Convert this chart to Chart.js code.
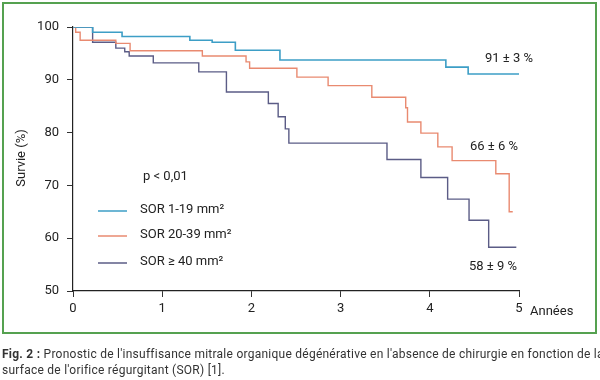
<!DOCTYPE html>
<html><head><meta charset="utf-8">
<script src="https://cdn.jsdelivr.net/npm/chart.js@4/dist/chart.umd.min.js"></script>
<style>
html,body{margin:0;padding:0;background:#fff;}
#wrap{position:relative;width:600px;height:380px;overflow:hidden;}
#frame{position:absolute;left:2px;top:2px;width:591px;height:328px;border:2px solid #55a150;box-sizing:content-box;}
canvas{position:absolute;left:0;top:0;}
#cap{position:absolute;left:2px;top:346px;width:610px;white-space:nowrap;font-family:Roboto,"Noto Sans",sans-serif;font-size:12px;line-height:16px;color:#333;letter-spacing:0.25px;}
#cap b{font-weight:bold;}
</style></head>
<body><div id="wrap"><div id="frame"></div><canvas id="c" width="600" height="380"></canvas>
<div id="cap"><b>Fig. 2 :</b> Pronostic de l'insuffisance mitrale organique dégénérative en l'absence de chirurgie en fonction de la<br>surface de l'orifice régurgitant (SOR) [1].</div></div>
<script>
const yTicks = [50, 60, 70, 80, 90, 100];
const xTicks = [0, 1, 2, 3, 4, 5];
const seriesNames = ["SOR 1-19 mm²", "SOR 20-39 mm²", "SOR ≥ 40 mm²"];
const seriesEndLabels = ["91 ± 3 %", "66 ± 6 %", "58 ± 9 %"];
const pValue = "p < 0,01";
const xTitle = "Années";
const yTitle = "Survie (%)";

const blueT = [0, 0.22, 0.55, 1.31, 1.56, 1.82, 2.32, 4.18, 4.43, 5.0];
const blueS = [100, 99.0, 98.2, 97.5, 97.1, 95.6, 93.75, 92.4, 91.1, 91.1];

const orangeT = [0, 0.03, 0.08, 0.48, 0.64, 1.45, 1.94, 1.98, 2.51, 2.86, 3.35, 3.73, 3.75, 3.90, 4.09, 4.25, 4.74, 4.89, 4.93];
const orangeS = [100, 99.0, 97.5, 96.9, 95.5, 94.5, 93.4, 92.2, 90.5, 88.9, 86.7, 84.7, 82.0, 79.9, 77.3, 74.7, 72.2, 65.0, 65.0];

const purpleT = [0, 0.22, 0.48, 0.58, 0.63, 0.90, 1.41, 1.72, 2.19, 2.30, 2.38, 2.42, 3.52, 3.90, 4.20, 4.44, 4.66, 4.97];
const purpleS = [100, 97.1, 96.0, 95.3, 94.5, 93.2, 91.5, 87.7, 85.5, 83.0, 80.7, 78.0, 74.9, 71.5, 67.4, 63.4, 58.3, 58.3];

const colors = ["#3d9ec6", "#e98a70", "#5b5c86"];
function pts(t, s){ return t.map((x,i)=>({x:x, y:s[i]})); }
const FONT = 'Roboto, "Noto Sans", sans-serif';

const overlay = {
  id:'overlay',
  afterDraw(chart){
    const ctx = chart.ctx, xs = chart.scales.x;
    ctx.save();
    ctx.fillStyle = '#222';
    ctx.font = '13px ' + FONT;
    ctx.textBaseline = 'middle';
    ctx.save();
    ctx.translate(22, 158);
    ctx.rotate(-Math.PI/2);
    ctx.textAlign = 'center';
    ctx.fillText(yTitle, 0, 0);
    ctx.restore();
    ctx.textAlign = 'left';
    ctx.fillText(xTitle, xs.getPixelForValue(5) + 11, 312);
    ctx.fillText(pValue, 143, 177);
    const ly = [210, 235, 262];
    seriesNames.forEach((n,i)=>{
      ctx.strokeStyle = colors[i];
      ctx.lineWidth = 1.5;
      ctx.beginPath(); ctx.moveTo(98, ly[i]+1); ctx.lineTo(127, ly[i]+1); ctx.stroke();
      ctx.fillText(n, 140, ly[i]);
    });
    ctx.fillText(seriesEndLabels[0], 485, 59);
    ctx.fillText(seriesEndLabels[1], 470, 147);
    ctx.fillText(seriesEndLabels[2], 469, 267);
    ctx.restore();
  }
};

new Chart(document.getElementById('c'), {
  type:'line',
  data:{ datasets:[
    {label:seriesNames[0], data:pts(blueT, blueS), borderColor:colors[0], borderWidth:1.6, stepped:'before', pointRadius:0, fill:false},
    {label:seriesNames[1], data:pts(orangeT, orangeS), borderColor:colors[1], borderWidth:1.4, stepped:'before', pointRadius:0, fill:false},
    {label:seriesNames[2], data:pts(purpleT, purpleS), borderColor:colors[2], borderWidth:1.4, stepped:'before', pointRadius:0, fill:false}
  ]},
  options:{
    responsive:false, animation:false,
    layout:{padding:{top:27, right:81, left:0, bottom:0}},
    plugins:{legend:{display:false}, tooltip:{enabled:false}},
    scales:{
      x:{type:'linear', min:0, max:5,
        afterFit(s){ s.height = 89; },
        afterBuildTicks(s){ s.ticks = xTicks.map(v=>({value:v})); },
        grid:{drawOnChartArea:false, drawTicks:true, tickLength:6, color:'#333', lineWidth:1},
        border:{display:true, color:'#222', width:1.2},
        ticks:{font:{family:FONT, size:13}, color:'#222', padding:4, maxRotation:0}
      },
      y:{type:'linear', min:50, max:100,
        afterFit(s){ s.width = 73; },
        afterBuildTicks(s){ s.ticks = yTicks.map(v=>({value:v})); },
        grid:{drawOnChartArea:false, drawTicks:true, tickLength:6, color:'#333', lineWidth:1},
        border:{display:true, color:'#222', width:1.2},
        ticks:{font:{family:FONT, size:13}, color:'#222', padding:8}
      }
    }
  },
  plugins:[overlay]
});
</script></body></html>
